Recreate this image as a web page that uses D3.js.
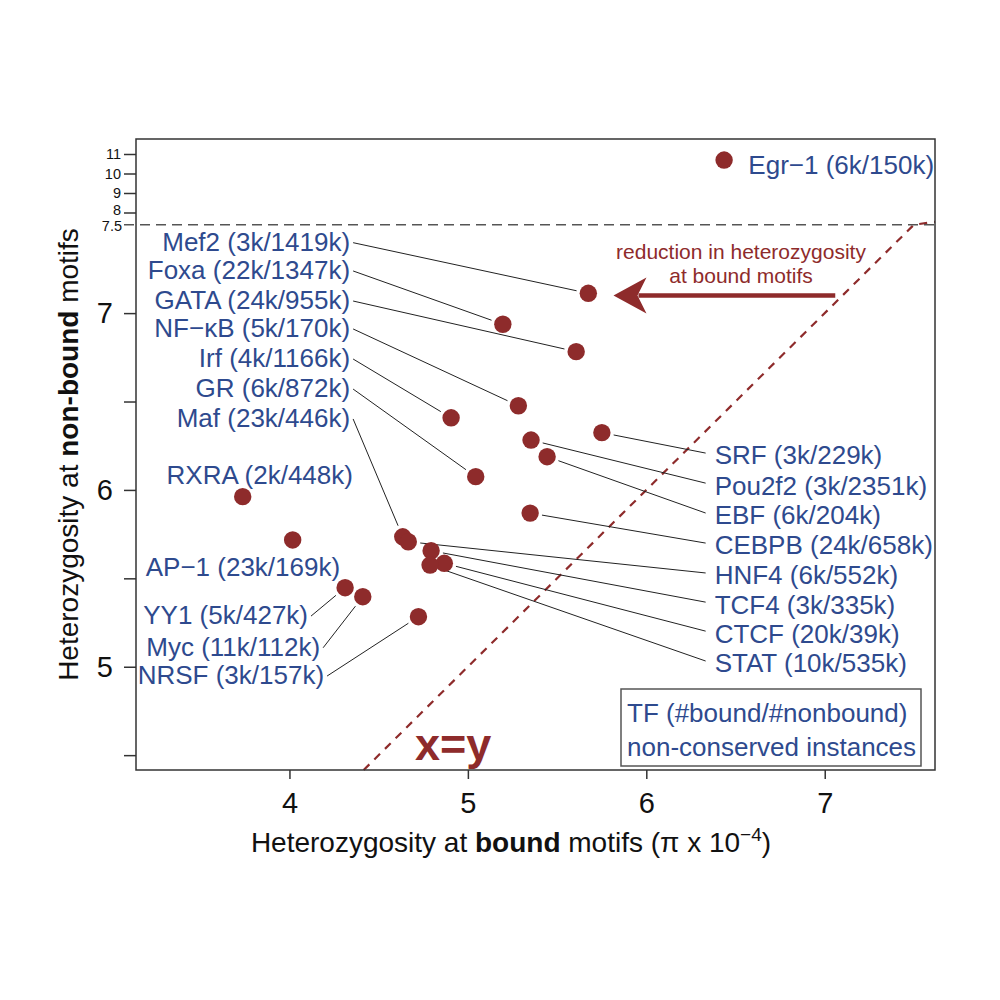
<!DOCTYPE html>
<html><head><meta charset="utf-8">
<script src="https://cdn.jsdelivr.net/npm/d3@7"></script>
<style>
body{margin:0;background:#fff}
text{font-family:"Liberation Sans",Arial,Helvetica,sans-serif}
</style>
</head><body>
<svg id="chart" width="1000" height="1000"></svg>
<script>
// ---------- data ----------
const tfNames = ["Egr−1","Mef2","Foxa","GATA","NF−κB","Irf","GR","Maf","RXRA","AP−1","YY1","Myc","NRSF",
                 "SRF","Pou2f2","EBF","CEBPB","HNF4","TCF4","CTCF","STAT"];
const tfCounts = ["6k/150k","3k/1419k","22k/1347k","24k/955k","5k/170k","4k/1166k","6k/872k","23k/446k","2k/448k",
                  "23k/169k","5k/427k","11k/112k","3k/157k","3k/229k","3k/2351k","6k/204k","24k/658k","6k/552k",
                  "3k/335k","20k/39k","10k/535k"];
const boundHet = [6.436,5.675,5.196,5.607,5.283,4.906,5.044,4.635,3.738,4.018,4.312,4.411,4.723,
                  5.751,5.354,5.444,5.349,4.666,4.794,4.868,4.788];
const nonboundHet = [10.69,7.112,6.937,6.782,6.476,6.408,6.075,5.735,5.962,5.717,5.447,5.396,5.283,
                     6.324,6.282,6.188,5.869,5.707,5.656,5.585,5.575];
// label placement (in data units) and whether a leader line is drawn
const labelX = [6.572,4.340,4.340,4.340,4.340,4.340,4.340,4.340,4.356,4.284,4.104,4.172,4.194,
                6.383,6.383,6.383,6.383,6.383,6.383,6.383,6.383];
const labelY = [10.44,7.404,7.244,7.074,6.916,6.746,6.576,6.407,6.084,5.566,5.292,5.113,4.953,
                6.197,6.027,5.858,5.688,5.519,5.354,5.190,5.021];
const labelAnchor = ["start","end","end","end","end","end","end","end","end","end","end","end","end",
                     "start","start","start","start","start","start","start","start"];
const hasLeader = [false,true,true,true,true,true,true,true,false,false,true,true,true,
                   true,true,true,true,true,true,true,true];

const xTicks = [4,5,6,7];
const yTicksLower = [4.5,5,5.5,6,6.5,7];
const yTicksUpper = [8,9,10,11];
const yBreak = 7.5;
const arrowFrom = [7.059, 7.10], arrowTo = [5.816, 7.10];
const arrowText = ["reduction in heterozygosity","at bound motifs"];
const legendText = ["TF (#bound/#nonbound)","non-conserved instances"];

// ---------- layout ----------
const L = 136, R = 935, T = 139, B = 770;
const blue = "#2e4a8e", red = "#8e2b2b", axisCol = "#333";
const svg = d3.select("#chart");

const x = d3.scaleLinear().domain([3.140, 7.618]).range([L, R]);
const y = d3.scaleLinear().domain([4.416, 7.5, 8, 11, 11.77]).range([B, 224.7, 212.5, 154, T]);

// x=y line (drawn through the broken scale)
const diag = [4.416, 7.5, 7.618];
svg.append("path")
  .attr("d", d3.line().x(d => x(d)).y(d => y(d))(diag))
  .attr("fill","none").attr("stroke", red).attr("stroke-width",2.2)
  .attr("stroke-dasharray","8,7");

// dashed break line at 7.5
svg.append("line").attr("x1", L-12).attr("x2", R).attr("y1", y(yBreak)).attr("y2", y(yBreak))
  .attr("stroke","#555").attr("stroke-width",1.4).attr("stroke-dasharray","10,6");

// frame
svg.append("rect").attr("x",L).attr("y",T).attr("width",R-L).attr("height",B-T)
  .attr("fill","none").attr("stroke",axisCol).attr("stroke-width",1.5);

// axes
const gx = svg.append("g").attr("transform",`translate(0,${B})`)
  .call(d3.axisBottom(x).tickValues(xTicks).tickSize(9).tickPadding(13).tickFormat(d3.format("d")));
gx.select(".domain").remove();
gx.selectAll("line").attr("stroke",axisCol).attr("stroke-width",1.5);
gx.selectAll("text").attr("font-size",29).attr("fill","#111");

const gy = svg.append("g").attr("transform",`translate(${L},0)`)
  .call(d3.axisLeft(y).tickValues(yTicksLower).tickSize(12).tickPadding(11)
        .tickFormat(d => Number.isInteger(d) ? d : ""));
gy.select(".domain").remove();
gy.selectAll("line").attr("stroke",axisCol).attr("stroke-width",1.5);
gy.selectAll("text").attr("font-size",29).attr("fill","#111");

const gy2 = svg.append("g").attr("transform",`translate(${L},0)`)
  .call(d3.axisLeft(y).tickValues(yTicksUpper).tickSize(12).tickPadding(3).tickFormat(d3.format("d")));
gy2.select(".domain").remove();
gy2.selectAll("line").attr("stroke",axisCol).attr("stroke-width",1.5);
gy2.selectAll("text").attr("font-size",14.5).attr("fill","#111")
  .attr("dy", d => d === 8 ? "0.12em" : "0.32em");
svg.append("text").attr("x", L-14).attr("y", y(yBreak)).attr("dy","0.42em")
  .attr("text-anchor","end").attr("font-size",14.5).attr("fill","#111").text(yBreak);

// axis titles
const xt = svg.append("text").attr("x",511).attr("y",852).attr("text-anchor","middle")
  .attr("font-size",28).attr("fill","#111");
xt.append("tspan").text("Heterozygosity at ");
xt.append("tspan").attr("font-weight","bold").text("bound");
xt.append("tspan").text(" motifs (π x 10");
xt.append("tspan").attr("font-size",19).attr("dy",-11).text("−4");
xt.append("tspan").attr("dy",11).text(")");

const yt = svg.append("text").attr("transform",`translate(78,${(T+B)/2}) rotate(-90)`)
  .attr("text-anchor","middle").attr("font-size",28).attr("fill","#111");
yt.append("tspan").text("Heterozygosity at ");
yt.append("tspan").attr("font-weight","bold").text("non-bound");
yt.append("tspan").text(" motifs");

// rows
const rows = tfNames.map((n,i) => ({name:n, count:tfCounts[i], bx:boundHet[i], ny:nonboundHet[i],
  lx:labelX[i], ly:labelY[i], anchor:labelAnchor[i], leader:hasLeader[i]}));

// leader lines
const gap = 12;
svg.append("g").selectAll("line").data(rows.filter(d => d.leader)).join("line")
  .each(function(d){
    const px = x(d.bx), py = y(d.ny);
    const sx = d.anchor === "end" ? x(d.lx) + 3 : x(d.lx) - 9;
    const sy = y(d.ly) + (d.anchor === "end" ? 1 : -2);
    const dx = sx - px, dy = sy - py, len = Math.hypot(dx,dy);
    d3.select(this).attr("x1", sx).attr("y1", sy)
      .attr("x2", px + dx/len*gap).attr("y2", py + dy/len*gap);
  })
  .attr("stroke","#222").attr("stroke-width",1);

// points
svg.append("g").selectAll("circle").data(rows).join("circle")
  .attr("cx", d => x(d.bx)).attr("cy", d => y(d.ny)).attr("r", 8.7).attr("fill", red);

// labels
svg.append("g").selectAll("text").data(rows).join("text")
  .attr("x", d => x(d.lx)).attr("y", d => y(d.ly)).attr("dy","0.36em")
  .attr("text-anchor", d => d.anchor).attr("font-size",26).attr("fill",blue)
  .text(d => `${d.name} (${d.count})`);

// arrow
const ax0 = x(arrowFrom[0]), ax1 = x(arrowTo[0]), ay = y(arrowTo[1]);
svg.append("line").attr("x1",ax0).attr("x2",ax1+25).attr("y1",ay).attr("y2",ay)
  .attr("stroke",red).attr("stroke-width",4.5);
svg.append("path")
  .attr("d",`M${ax1},${ay} L${ax1+33},${ay-18} L${ax1+24},${ay} L${ax1+33},${ay+18} Z`)
  .attr("fill",red);
svg.append("g").selectAll("text").data(arrowText).join("text")
  .attr("x",741).attr("y",(d,i)=> 252 + i*23.5).attr("dy","0.35em").attr("text-anchor","middle")
  .attr("font-size",21).attr("fill",red).text(d => d);

// x=y label
svg.append("text").attr("x",x(4.704)).attr("y",760).attr("font-size",45).attr("font-weight","bold")
  .attr("fill",red).text("x=y");

// legend box
svg.append("rect").attr("x",621).attr("y",689).attr("width",300).attr("height",77)
  .attr("fill","#fff").attr("stroke","#555").attr("stroke-width",1.5);
svg.append("g").selectAll("text").data(legendText).join("text")
  .attr("x",627).attr("y",(d,i)=> 713 + i*34).attr("dy","0.36em")
  .attr("font-size",26).attr("fill",blue).text(d => d);
</script>
</body></html>
